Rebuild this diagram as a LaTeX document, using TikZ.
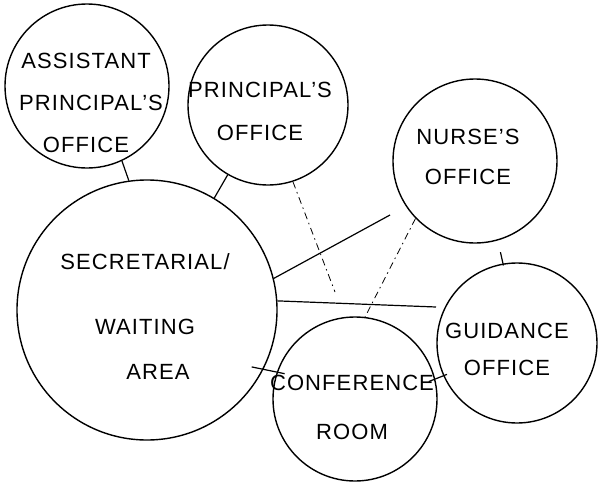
\documentclass[tikz,border=0pt]{standalone}
\usepackage{fontspec}
\setsansfont[LetterSpace=5]{Liberation Sans}
\usepackage{tikz}
\tikzset{
room/.style={circle, draw, line width=1.4pt, inner sep=0pt}, % one circle per room
lbl/.style={font=\sffamily\fontsize{22}{42}\selectfont, align=center, inner sep=0pt}, % room names
link/.style={line width=1.2pt}, % direct connection
weak/.style={line width=0.8pt, dash pattern=on 7pt off 4pt on 1.5pt off 4pt}, % loose connection
}

\begin{document}
\begin{tikzpicture}[x=1pt, y=-1pt]
		\useasboundingbox (0,0) rectangle (598,485);

		\node[room, minimum size=164pt] (asst) at (87,86) {};
		\node[room, minimum size=160pt] (prin) at (268,105) {};
		\node[room, minimum size=164pt] (nurse) at (475,161) {};
		\node[room, minimum size=260pt] (sec) at (147,310) {};
		\node[room, minimum size=160pt] (guid) at (517,343) {};
		\node[room, minimum size=164pt] (conf) at (355,399) {};

		\node[lbl] (asst-l) at (86,103) {ASSISTANT\\\hspace*{10pt}PRINCIPAL'S\\OFFICE};
		\node[lbl] (prin-l) at (260,111) {PRINCIPAL'S\\[1pt]OFFICE};
		\node[lbl] (nurse-l) at (468,157) {NURSE'S\\[-2pt]OFFICE};
		\node[lbl] (sec-l) at (145,317) {SECRETARIAL/\\[23pt]WAITING\\[3pt]\hspace*{26pt}AREA};
		\node[lbl] (guid-l) at (507,349) {GUIDANCE\\[-5pt]OFFICE};
		\node[lbl] (conf-l) at (352,407) {CONFERENCE\\[7pt]ROOM};

		\coordinate (nurse-end) at (390,215);
		\coordinate (guid-end) at (436,307);
		\coordinate (prin-end) at (335,292);

		\draw[link] (asst.-65) -- (sec.98)
			(prin.-120) -- (sec.59)
			(sec.14) -- (nurse-end)
			(sec.4) -- (guid-end);
		\draw[link, shorten <=12pt, shorten >=-2pt] (nurse.-74) -- (guid.100);
		\draw[link, shorten <=-12pt, shorten >=-8pt] (sec.-27) -- (conf.161);
		\draw[link, shorten <=-7pt, shorten >=-4pt] (conf.14) -- (guid.-156);

		\draw[weak] (prin.-72) -- (prin-end)
			(nurse.-136) -- (conf.83);

	\end{tikzpicture}
\end{document}
